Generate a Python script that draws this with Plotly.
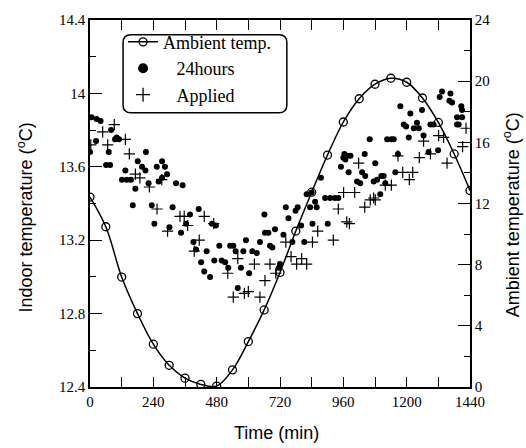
import plotly.graph_objects as go

# Ambient temperature (right axis, degC), every 60 min
amb_t = [0, 60, 120, 180, 240, 300, 360, 420, 480, 540, 600, 660, 720,
         780, 840, 900, 960, 1020, 1080, 1140, 1200, 1260, 1320, 1380, 1440]
amb_v = [12.42, 10.48, 7.19, 4.80, 2.80, 1.42, 0.58, 0.17, 0.06, 1.12, 2.97, 5.04, 7.49,
         10.20, 12.74, 15.17, 17.33, 18.85, 19.80, 20.19, 19.93, 18.90, 17.30, 15.24, 12.85]

# 24hours series (left axis, degC)
h24_t = [0, 6, 23, 25, 40, 61, 71, 76, 80, 95, 101, 110, 121, 134, 139, 155, 172, 181, 197, 210,
         212, 222, 253, 260, 273, 273, 284, 292, 326, 351,
         162, 234, 244, 301, 313, 345, 364, 379, 392, 402, 412, 421, 433, 442, 455, 462, 471, 477, 490,
         499, 512, 524, 531, 543, 552, 560, 572, 581, 591, 603, 615, 632, 644, 661, 663, 676, 682, 691,
         701, 716, 720, 733, 742, 752, 767, 779, 787, 800, 812, 821, 834, 840, 843, 853, 859, 875, 891,
         901, 910, 928, 941,
         951, 960, 964, 968, 974, 980, 987, 1012, 1024, 1031, 1041, 1043, 1060, 1075, 1081, 1088, 1100,
         1104, 1113, 1119, 1126, 1142, 1151, 1157, 1167, 1176, 1189, 1198, 1208, 1214, 1227, 1239, 1246,
         1258, 1264, 1283, 1290, 1302, 1319, 1325, 1334, 1362, 1366, 1372, 1391, 1391, 1397, 1407, 1410, 1410]
h24_v = [13.68, 13.87, 13.74, 13.86, 13.85, 13.61, 13.68, 13.61, 13.80, 13.75, 13.76, 13.75, 13.53, 13.58,
         13.53, 13.53, 13.48, 13.63, 13.60, 13.58, 13.68, 13.51, 13.60, 13.52, 13.63, 13.54, 13.60, 13.56,
         13.51, 13.50,
         13.39, 13.39, 13.29, 13.27, 13.38, 13.24, 13.29, 13.34, 13.19, 13.15, 13.37, 13.08, 13.03, 13.14,
         13.00, 13.29, 13.09, 13.28, 13.17,
         13.09, 13.08, 13.05, 13.17, 13.17, 13.14, 12.94, 13.05, 13.14, 13.20, 13.02, 13.14, 13.13, 13.19,
         13.34, 13.24, 13.24, 13.17, 13.16, 13.26, 13.05, 13.07, 13.23, 13.38, 13.32, 13.19, 13.36, 13.38,
         13.28, 13.19, 13.45, 13.38, 13.46, 13.29, 13.41, 13.38, 13.54, 13.43, 13.29, 13.43, 13.43, 13.43,
         13.60, 13.65, 13.67, 13.64, 13.66, 13.57, 13.66, 13.52, 13.51, 13.57, 13.67, 13.55, 13.75, 13.52,
         13.62, 13.53, 13.45, 13.55, 13.55, 13.51, 13.75, 13.75, 13.75, 13.57, 13.67, 13.93, 13.83, 13.82,
         13.76, 13.89, 13.81, 13.84, 13.81, 13.91, 13.77, 13.68, 13.83, 13.83, 13.69, 13.98, 14.01, 13.96,
         14.00, 13.95, 13.87, 13.83, 13.83, 13.93, 13.91, 13.87]

# Applied series (left axis, degC)
app_t = [3, 48, 67, 92, 134, 149, 172, 189, 225, 254, 272, 294, 341, 357, 370, 395, 414, 433, 469,
         522, 543, 560, 585, 600, 623, 644, 663, 682, 704, 742, 762, 783, 802, 821, 843, 863, 922,
         941, 961, 973, 983, 1003, 1018, 1041, 1062, 1075, 1081, 1119, 1142, 1167, 1185, 1210, 1223,
         1248, 1264, 1290, 1321, 1340, 1353, 1412, 1425]
app_v = [13.72, 13.79, 13.72, 13.83, 13.75, 13.67, 13.56, 13.54, 13.49, 13.37, 13.53, 13.25, 13.33,
         13.33, 13.28, 13.14, 13.20, 13.33, 13.29, 13.02, 12.89, 13.10, 12.91, 12.92, 13.07, 12.89,
         12.98, 13.07, 13.02, 13.19, 13.11, 13.07, 13.10, 13.07, 13.19, 13.25, 13.20, 13.37, 13.46,
         13.30, 13.29, 13.46, 13.62, 13.38, 13.42, 13.43, 13.42, 13.50, 13.50, 13.66, 13.57, 13.53,
         13.57, 13.65, 13.74, 13.67, 13.77, 13.76, 13.62, 13.71, 13.81]

x_ticks = [0, 240, 480, 720, 960, 1200, 1440]
y1_ticks = [12.4, 12.8, 13.2, 13.6, 14.0, 14.4]
y1_text = ["12.4", "12.8", "13.2", "13.6", "14", "14.4"]
y2_ticks = [0, 4, 8, 12, 16, 20, 24]

SERIF = "Liberation Serif, Times New Roman, serif"
SANS = "Liberation Sans, Arial, sans-serif"

fig = go.Figure()
# data traces
fig.add_trace(go.Scatter(
    x=amb_t, y=amb_v, yaxis="y2", mode="lines+markers", name="Ambient temp.",
    line=dict(color="black", width=1.5, shape="spline", smoothing=1.0),
    marker=dict(symbol="circle-open", size=8, color="black", line=dict(width=1.3)),
))
fig.add_trace(go.Scatter(
    x=h24_t, y=h24_v, mode="markers", name="24hours", showlegend=False,
    marker=dict(symbol="circle", size=6, color="black"),
))
fig.add_trace(go.Scatter(
    x=app_t, y=app_v, mode="markers", name="Applied", showlegend=False,
    marker=dict(symbol="cross-thin", size=8, color="black", line=dict(width=1.2, color="black")),
))
# legend-only entries with larger symbols
fig.add_trace(go.Scatter(
    x=[None], y=[None], mode="markers", name="\u00a0\u00a0\u00a024hours",
    marker=dict(symbol="circle", size=10, color="black"),
))
fig.add_trace(go.Scatter(
    x=[None], y=[None], mode="markers", name="\u00a0\u00a0\u00a0Applied",
    marker=dict(symbol="cross-thin", size=10, color="black", line=dict(width=1.3, color="black")),
))

axis_common = dict(showgrid=False, zeroline=False, linecolor="black", linewidth=1.5,
                   ticks="inside", tickcolor="black", tickwidth=1.3,
                   tickfont=dict(family=SERIF, size=15, color="black"))

fig.update_layout(
    width=526, height=448,
    margin=dict(l=90, r=56, t=15, b=61),
    paper_bgcolor="white", plot_bgcolor="white",
    showlegend=True,
    xaxis=dict(range=[0, 1440], tickvals=x_ticks, ticklen=10, mirror="allticks",
               minor=dict(dtick=120, ticklen=10, tickcolor="black", tickwidth=1.3, ticks="inside"),
               **axis_common),
    yaxis=dict(range=[12.4, 14.4], tickvals=y1_ticks, ticktext=y1_text, ticklen=12,
               minor=dict(dtick=0.2, tick0=12.4, ticklen=6, tickcolor="black", tickwidth=1.3, ticks="inside"),
               **axis_common),
    yaxis2=dict(range=[0, 24], tickvals=y2_ticks, ticklen=12, overlaying="y", side="right",
                minor=dict(dtick=2, ticklen=6, tickcolor="black", tickwidth=1.3, ticks="inside"),
                **axis_common),
    legend=dict(x=0.087, y=0.99, xanchor="left", yanchor="top",
                bgcolor="rgba(0,0,0,0)", borderwidth=0,
                font=dict(family=SERIF, size=18, color="black"), tracegroupgap=0),
)

# rounded legend frame
x0, x1, y0, y1 = 0.087, 0.518, 0.747, 0.960
rx, ry = 8 / 380, 8 / 372
path = (f"M {x0+rx},{y1} L {x1-rx},{y1} Q {x1},{y1} {x1},{y1-ry} L {x1},{y0+ry} "
        f"Q {x1},{y0} {x1-rx},{y0} L {x0+rx},{y0} Q {x0},{y0} {x0},{y0+ry} "
        f"L {x0},{y1-ry} Q {x0},{y1} {x0+rx},{y1} Z")
fig.add_shape(type="path", path=path, xref="paper", yref="paper",
              line=dict(color="black", width=1.5))

fig.add_annotation(text="Indoor temperature (<sup>o</sup>C)", xref="paper", yref="paper",
                   x=-0.171, y=0.462, textangle=-90, showarrow=False,
                   xanchor="center", yanchor="middle",
                   font=dict(family=SANS, size=18, color="black"))
fig.add_annotation(text="Ambient temperature (<sup>o</sup>C)", xref="paper", yref="paper",
                   x=1.11, y=0.47, textangle=-90, showarrow=False,
                   xanchor="center", yanchor="middle",
                   font=dict(family=SANS, size=18, color="black"))
fig.add_annotation(text="Time (min)", xref="paper", yref="paper",
                   x=0.492, y=-0.124, showarrow=False,
                   xanchor="center", yanchor="middle",
                   font=dict(family=SANS, size=18, color="black"))

fig.write_html("out.html")
